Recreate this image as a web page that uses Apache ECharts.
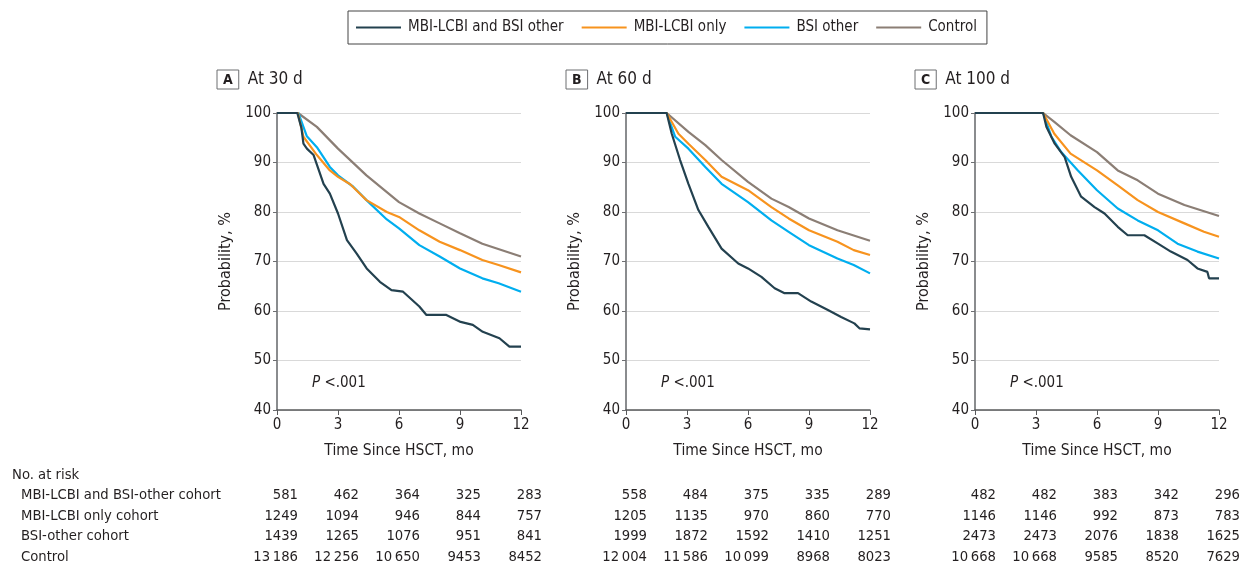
<!DOCTYPE html>
<html>
<head>
<meta charset="utf-8">
<script src="https://cdn.jsdelivr.net/npm/echarts/dist/echarts.min.js"></script>
<style>
  html, body { margin: 0; padding: 0; background: #fff; }
  #main { width: 1247px; height: 567px; }
</style>
</head>
<body>
<div id="main"></div>
<script>
// groups, in legend order
const groupNames = ["MBI-LCBI and BSI other", "MBI-LCBI only", "BSI other", "Control"];
const groupColors = ["#23414f", "#f7931e", "#00aeef", "#8b7e75"];

const panelTitles = ["A", "B", "C"];
const panelSubtitles = ["At 30 d", "At 60 d", "At 100 d"];
const pValueText = "P <.001";

// x ticks (months since HSCT)
const monthTicks = [0, 3, 6, 9, 12];

// panel A - landmark at 30 d  [month, probability %]
const a30Dual = [[0,100],[1.0,100],[1.2,97],[1.3,93.8],[1.47,92.8],[1.8,91.5],[2.29,85.7],[2.6,83.7],[3.0,79.7],[3.44,74.3],[3.92,71.6],[4.41,68.6],[5.06,65.9],[5.63,64.2],[6.2,63.9],[7.0,60.9],[7.35,59.2],[8.33,59.2],[9.03,57.8],[9.63,57.2],[10.12,55.8],[10.94,54.5],[11.43,52.8],[12,52.8]];
const a30Lcbi = [[0,100],[1.03,100],[1.3,95.2],[1.96,91.5],[2.6,88.4],[3.0,87.1],[3.6,85.6],[4.4,82.4],[5.4,80.0],[6.0,79.0],[7.0,76.3],[8.0,74.0],[9.0,72.3],[10.1,70.3],[10.9,69.3],[12,67.8]];
const a30Bsi = [[0,100],[1.05,100],[1.47,95.3],[1.96,93.1],[2.6,89.1],[3.0,87.4],[3.75,85.1],[4.4,82.4],[5.4,78.5],[6.0,76.7],[7.0,73.3],[8.0,71.0],[9.0,68.6],[10.1,66.6],[10.9,65.6],[12,63.9]];
const a30Control = [[0,100],[1.03,100],[1.96,97.2],[3.0,92.8],[4.4,87.4],[6.0,82.0],[7.0,79.7],[8.0,77.7],[9.0,75.7],[10.1,73.6],[12,71.0]];

// panel B - landmark at 60 d
const b60Dual = [[0,100],[2.0,100],[2.25,95.8],[2.66,90.5],[3.07,85.7],[3.56,80.4],[4.05,77.0],[4.7,72.6],[5.52,69.6],[6.0,68.6],[6.66,66.9],[7.31,64.6],[7.8,63.6],[8.46,63.6],[9.11,61.9],[9.93,60.2],[10.58,58.8],[11.23,57.5],[11.48,56.5],[12,56.3]];
const b60Lcbi = [[0,100],[2.0,100],[2.58,95.8],[3.07,93.8],[3.9,90.5],[4.7,87.1],[6.0,84.4],[7.15,81.0],[8.0,78.7],[9.0,76.3],[10.4,74.0],[11.2,72.3],[12,71.3]];
const b60Bsi = [[0,100],[2.0,100],[2.42,95.2],[3.07,92.8],[3.9,89.1],[4.7,85.7],[6.0,82.0],[7.15,78.3],[8.0,76.0],[9.0,73.3],[10.4,70.6],[11.2,69.3],[12,67.6]];
const b60Control = [[0,100],[2.0,100],[3.07,96.2],[3.9,93.5],[4.7,90.5],[6.0,86.1],[7.15,82.7],[8.0,81.0],[9.0,78.7],[10.4,76.3],[12,74.2]];

// panel C - landmark at 100 d
const c100Dual = [[0,100],[3.35,100],[3.51,97.2],[3.92,93.8],[4.41,91.1],[4.73,87.1],[5.22,83.1],[5.88,81.0],[6.37,79.7],[7.02,77.0],[7.51,75.3],[8.33,75.3],[9.0,73.6],[9.63,72.0],[10.45,70.3],[10.94,68.6],[11.43,67.9],[11.51,66.6],[12,66.6]];
const c100Lcbi = [[0,100],[3.35,100],[3.9,95.8],[4.7,91.8],[6.0,88.4],[7.02,85.4],[8.0,82.4],[9.0,80.0],[10.3,77.7],[11.26,76.0],[12,75.0]];
const c100Bsi = [[0,100],[3.35,100],[3.76,95.2],[4.24,92.1],[5.06,88.4],[6.0,84.4],[7.02,80.7],[8.0,78.3],[9.0,76.3],[9.96,73.6],[10.94,72.0],[12,70.6]];
const c100Control = [[0,100],[3.35,100],[3.9,98.2],[4.7,95.5],[6.0,92.1],[7.02,88.4],[8.0,86.4],[9.0,83.7],[10.3,81.4],[12,79.2]];

// no. at risk table
const riskTitle = "No. at risk";
const riskRowLabels = ["MBI-LCBI and BSI-other cohort", "MBI-LCBI only cohort", "BSI-other cohort", "Control"];
const riskA = [[581,462,364,325,283],[1249,1094,946,844,757],[1439,1265,1076,951,841],[13186,12256,10650,9453,8452]];
const riskB = [[558,484,375,335,289],[1205,1135,970,860,770],[1999,1872,1592,1410,1251],[12004,11586,10099,8968,8023]];
const riskC = [[482,482,383,342,296],[1146,1146,992,873,783],[2473,2473,2076,1838,1625],[10668,10668,9585,8520,7629]];

const panelCurves = [
  [a30Dual, a30Lcbi, a30Bsi, a30Control],
  [b60Dual, b60Lcbi, b60Bsi, b60Control],
  [c100Dual, c100Lcbi, c100Bsi, c100Control]
];
const panelRisk = [riskA, riskB, riskC];

const FONT = "'Liberation Sans Narrow', 'DejaVu Sans Condensed', sans-serif";
const TXT = "#231f20";
const gridLefts = [277, 626, 975];

// thousands with a thin gap, like 13 186
function fmt(n) {
  return n >= 10000 ? String(n).replace(/(\d{2})(\d{3})$/, "$1\u2009$2") : String(n);
}

let myChart = echarts.init(document.getElementById("main"));

let grids = [], xAxes = [], yAxes = [], series = [], titles = [];
panelCurves.forEach((curves, p) => {
  grids.push({ left: gridLefts[p], top: 113, width: 244, height: 297 });
  xAxes.push({
    gridIndex: p, type: "value", min: 0, max: 12, interval: 3,
    name: "Time Since HSCT, mo", nameLocation: "middle", nameGap: 33,
    nameTextStyle: { fontFamily: FONT, fontSize: 15.5, color: TXT },
    axisLine: { lineStyle: { color: "#58595b", width: 1.5 } },
    axisTick: { show: true, length: 5, lineStyle: { color: "#58595b" } },
    axisLabel: { fontFamily: FONT, fontSize: 15, color: TXT, margin: 8 },
    splitLine: { show: false }
  });
  yAxes.push({
    gridIndex: p, type: "value", min: 40, max: 100, interval: 10,
    name: "Probability, %", nameLocation: "middle", nameGap: 43, nameRotate: 90,
    nameTextStyle: { fontFamily: FONT, fontSize: 16, color: TXT },
    axisLine: { show: true, lineStyle: { color: "#8a8c8e", width: 2 } },
    axisTick: { show: true, length: 4, lineStyle: { color: "#6d6e71" } },
    axisLabel: { fontFamily: FONT, fontSize: 15, color: TXT, margin: 6 },
    splitLine: { show: true, lineStyle: { color: "#d9d9d9", width: 1 } }
  });
  curves.forEach((pts, g) => {
    series.push({
      name: groupNames[g], type: "line", xAxisIndex: p, yAxisIndex: p,
      data: pts, showSymbol: false, symbol: "none",
      lineStyle: { color: groupColors[g], width: 2.2 },
      itemStyle: { color: groupColors[g] },
      z: 10 - g
    });
  });
  titles.push({
    left: gridLefts[p] - 60, top: 70, padding: 0,
    text: "{b|" + panelTitles[p] + "}{t|" + panelSubtitles[p] + "}",
    textStyle: {
      fontWeight: "normal",
      rich: {
        b: { fontFamily: FONT, fontSize: 14, fontWeight: "bold", color: TXT,
             borderColor: "#6d6e71", borderWidth: 1, padding: [3, 6, 2, 6] },
        t: { fontFamily: FONT, fontSize: 17, fontWeight: "normal", color: TXT, padding: [0, 0, 0, 9] }
      }
    }
  });
});

let option = {
  animation: false,
  title: titles,
  legend: {
    data: groupNames, left: 348, top: 11,
    borderColor: "#444", borderWidth: 1, padding: [9, 10, 9, 8],
    icon: "rect", itemWidth: 45, itemHeight: 2, itemGap: 18,
    textStyle: { fontFamily: FONT, fontSize: 15, color: TXT, padding: [0, 0, 0, 2] }
  },
  grid: grids, xAxis: xAxes, yAxis: yAxes, series: series
};
myChart.setOption(option);

// p values and risk table, positioned through the axes
let graphic = [];
panelRisk.forEach((rows, p) => {
  const y45 = myChart.convertToPixel({ yAxisIndex: p }, 45.3);
  graphic.push({
    type: "text", left: gridLefts[p] + 35, top: y45 - 8,
    style: {
      text: "{i|P} <.001",
      rich: { i: { fontStyle: "italic", fontFamily: FONT, fontSize: 15, fill: TXT } },
      font: "15px " + FONT, fill: TXT
    }
  });
  rows.forEach((vals, r) => {
    vals.forEach((v, k) => {
      const x = myChart.convertToPixel({ xAxisIndex: p }, monthTicks[k]) + 21;
      graphic.push({
        type: "text", x: x, y: 495 + r * 20.8,
        style: { text: fmt(v), font: "14.7px " + FONT, fill: TXT, align: "right", verticalAlign: "middle" }
      });
    });
  });
});
graphic.push({
  type: "text", x: 12, y: 475,
  style: { text: riskTitle, font: "14.7px " + FONT, fill: TXT, verticalAlign: "middle" }
});
riskRowLabels.forEach((lab, r) => {
  graphic.push({
    type: "text", x: 21, y: 495 + r * 20.8,
    style: { text: lab, font: "14.7px " + FONT, fill: TXT, verticalAlign: "middle" }
  });
});
myChart.setOption({ graphic: graphic });
</script>
</body>
</html>
